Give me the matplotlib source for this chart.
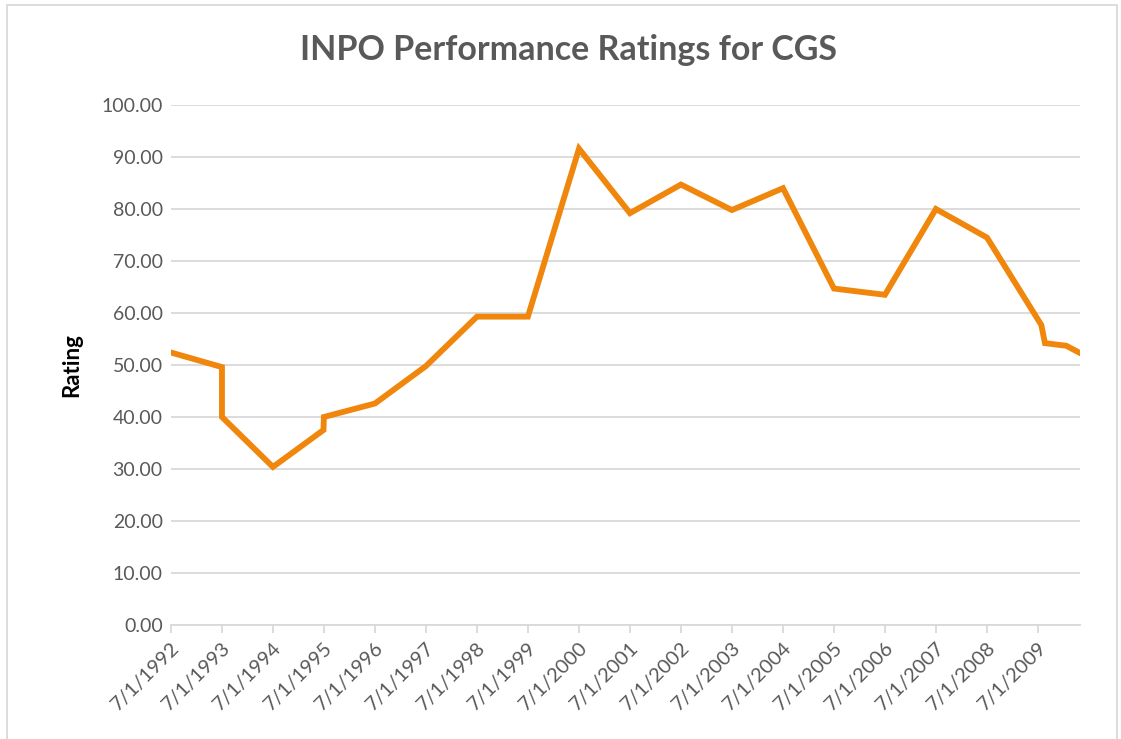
import datetime as dt
import matplotlib
matplotlib.use("Agg")
import matplotlib.pyplot as plt
import matplotlib.dates as mdates
from matplotlib.patches import Rectangle

# INPO ratings
dates = [
    "1992-07-01", "1993-07-01", "1993-07-01", "1994-07-01", "1995-06-28",
    "1995-07-01", "1996-07-01", "1997-07-01", "1998-07-01", "1999-07-01",
    "2000-07-01", "2001-07-01", "2002-07-01", "2003-07-01", "2004-07-01",
    "2005-07-01", "2006-07-01", "2007-07-01", "2008-07-01", "2009-07-25",
    "2009-08-20", "2010-01-20", "2010-04-28",
]
ratings = [
    52.4, 49.6, 40.0, 30.4, 37.5,
    40.0, 42.6, 49.8, 59.3, 59.3,
    91.6, 79.2, 84.7, 79.8, 84.0,
    64.7, 63.5, 80.0, 74.5, 57.7,
    54.2, 53.7, 52.3,
]
tick_years = list(range(1992, 2010))

x = [dt.datetime.strptime(d, "%Y-%m-%d") for d in dates]
ticks = [dt.datetime(y, 7, 1) for y in tick_years]

grey = "#595959"
grid_c = "#d9d9d9"

fig = plt.figure(figsize=(11.21, 7.39), dpi=100)
ax = fig.add_axes([171 / 1121, 1 - 625 / 739, (1080 - 171) / 1121, (625 - 105) / 739])

ax.plot(x, ratings, color="#f0860c", lw=4.2, solid_joinstyle="miter", zorder=3)

ax.set_ylim(0, 100)
ax.set_yticks(range(0, 101, 10))
ax.set_yticklabels([f"{v:.2f}" for v in range(0, 101, 10)])
ax.set_xlim(x[0], x[-1])
ax.set_xticks(ticks)
ax.set_xticklabels([f"{t.month}/{t.day}/{t.year}" for t in ticks],
                   rotation=45, ha="right", rotation_mode="anchor")

ax.grid(axis="y", color=grid_c, lw=1.3)
ax.set_axisbelow(True)
for s in ["top", "right", "left"]:
    ax.spines[s].set_visible(False)
ax.spines["bottom"].set_color(grid_c)
ax.spines["bottom"].set_linewidth(1.3)
ax.tick_params(axis="y", length=0, pad=6, labelsize=14, labelcolor=grey, labelfontfamily="Lato")
ax.tick_params(axis="x", length=6, width=1.3, color=grid_c, pad=4,
               labelsize=14.5, labelcolor=grey, labelfontfamily="Lato")

ax.set_ylabel("Rating", fontsize=16, fontweight="bold", family="Lato", labelpad=14)
fig.text(0.507, 1 - 50 / 739, "INPO Performance Ratings for CGS", ha="center", va="center",
         fontsize=24.5, fontweight="bold", color=grey, family="Lato")

# chart border
fig.patches.append(Rectangle((7 / 1121, -0.01), 1110 / 1121, 1 - 5 / 739 + 0.01,
                             transform=fig.transFigure, fill=False, ec=grid_c, lw=1.3))

fig.savefig("out.png", dpi=100)
